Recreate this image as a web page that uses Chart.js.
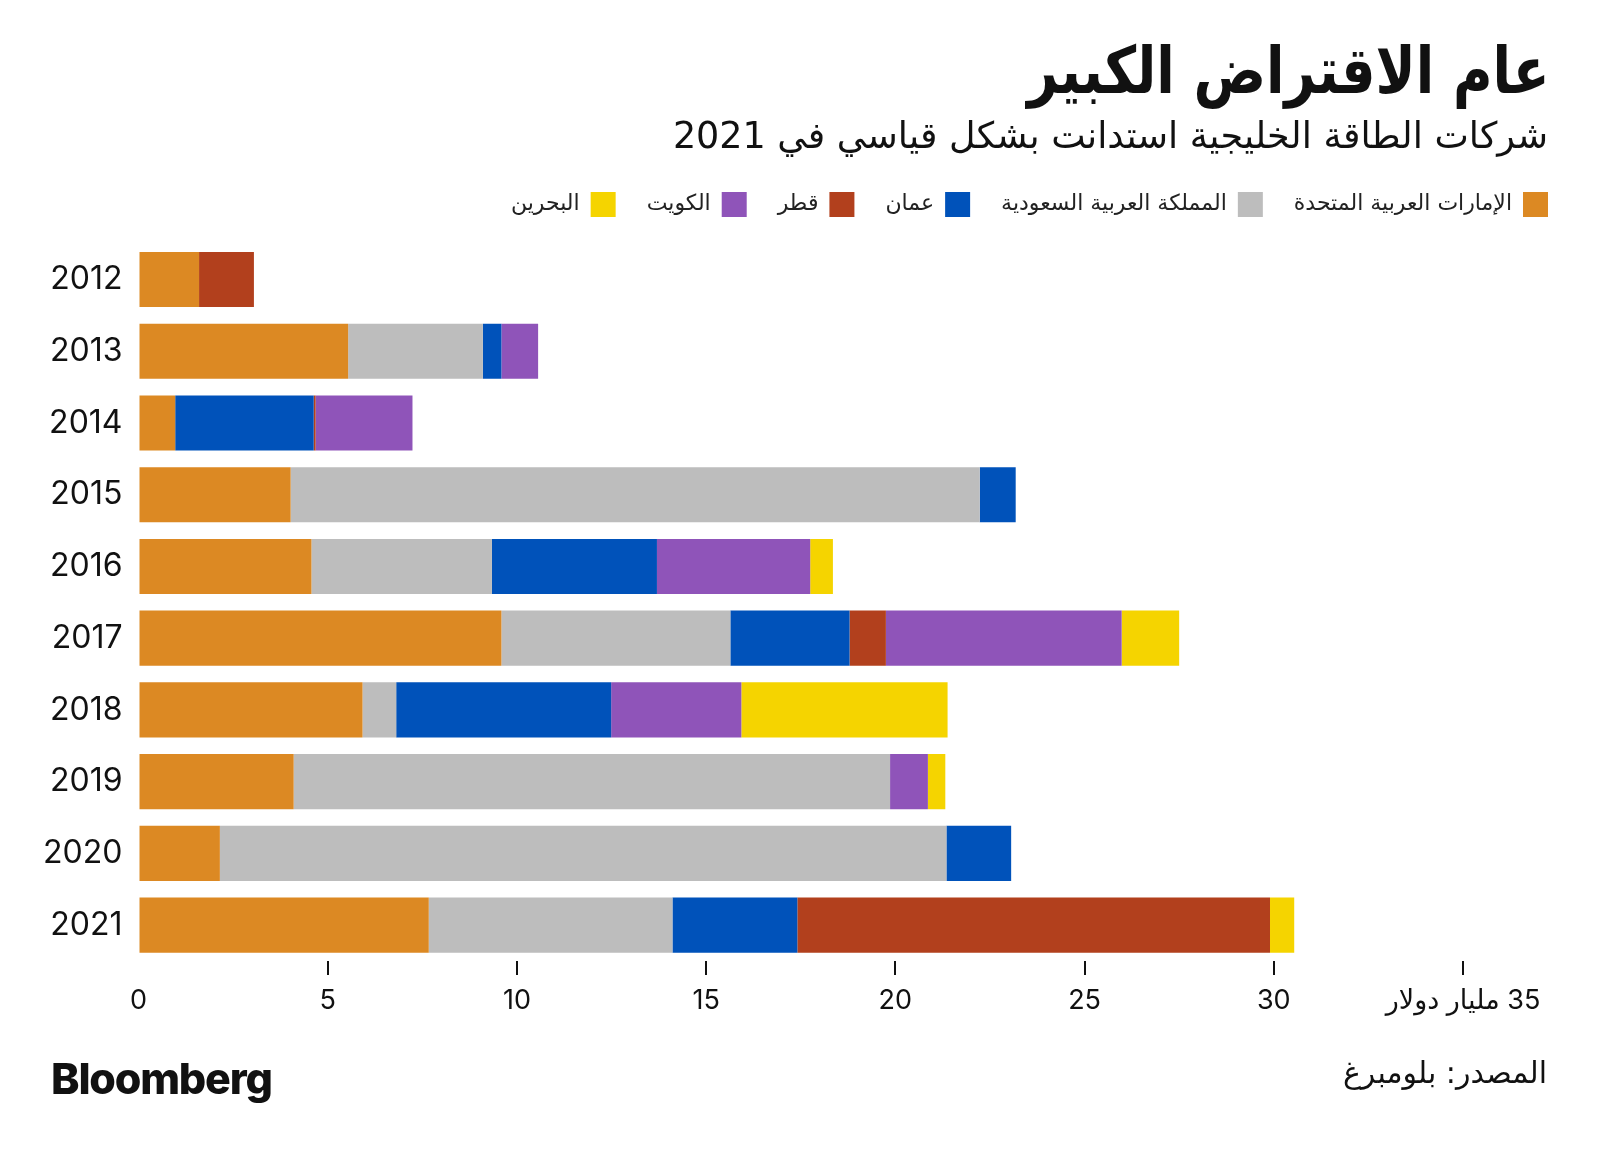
<!DOCTYPE html>
<html lang="ar">
<head>
<meta charset="UTF-8">
<title>عام الاقتراض الكبير</title>
<script src="https://cdn.jsdelivr.net/npm/chart.js@4/dist/chart.umd.min.js"></script>
<style>
  html, body { margin: 0; padding: 0; background: #fff; }
  body { width: 1600px; height: 1159px; position: relative; overflow: hidden; font-family: 'DejaVu Sans', sans-serif; color: #111; }
  .wrap { position: absolute; left: 0; top: 0; width: 1600px; height: 1159px; }
  .title { position: absolute; right: 50px; top: 33px; font-size: 65px; font-weight: 700; direction: rtl; white-space: nowrap; transform: scaleX(0.83); transform-origin: right center; }
  .sub { position: absolute; right: 52px; top: 114px; font-size: 36.5px; direction: rtl; white-space: nowrap; }
  .logo { position: absolute; left: 51px; top: 1052px; font-family: Inter, sans-serif; font-weight: 800; font-size: 43px; letter-spacing: -1.2px; }
  .source { position: absolute; right: 53px; top: 1055px; font-size: 30px; direction: rtl; white-space: nowrap; }
</style>
</head>
<body>
<div class="wrap"><canvas id="chart"></canvas></div>
<div class="title">عام الاقتراض الكبير</div>
<div class="sub">شركات الطاقة الخليجية استدانت بشكل قياسي في 2021</div>
<div class="logo">Bloomberg</div>
<div class="source">المصدر: بلومبرغ</div>
<script>
const years = ['2012', '2013', '2014', '2015', '2016', '2017', '2018', '2019', '2020', '2021'];
const seriesNames = ['الإمارات العربية المتحدة', 'المملكة العربية السعودية', 'عمان', 'قطر', 'الكويت', 'البحرين'];
const seriesColors = ['#DC8923', '#BDBDBD', '#0052BA', '#B2401D', '#8F54B9', '#F5D400'];

// billions of dollars
const uae     = [1.60, 5.54, 0.97, 4.02, 4.57, 9.59, 5.92, 4.10, 2.15, 7.67];
const saudi   = [0, 3.56, 0, 18.21, 4.77, 6.05, 0.89, 15.76, 19.20, 6.44];
const oman    = [0, 0.49, 3.66, 0.95, 4.36, 3.15, 5.68, 0, 1.71, 3.30];
const qatar   = [1.45, 0, 0.05, 0, 0, 0.96, 0, 0, 0, 12.49];
const kuwait  = [0, 0.97, 2.56, 0, 4.05, 6.23, 3.44, 1.00, 0, 0];
const bahrain = [0, 0, 0, 0, 0.60, 1.52, 5.45, 0.46, 0, 0.64];

const xTicks = [0, 5, 10, 15, 20, 25, 30, 35];
const unitLabel = 'مليار دولار';

const allSeries = [uae, saudi, oman, qatar, kuwait, bahrain];

// make the legend box taller than Chart.js would, so the plot starts lower
const legendHeight = {
  id: 'legendHeight',
  beforeInit(chart) {
    const fit = chart.legend.fit;
    chart.legend.fit = function () {
      fit.call(this);
      this.height = 82.6;
    };
  }
};

new Chart(document.getElementById('chart'), {
  type: 'bar',
  data: {
    labels: years,
    datasets: allSeries.map((d, i) => ({
      label: seriesNames[i],
      data: d,
      backgroundColor: seriesColors[i],
      borderWidth: 0,
      barPercentage: 0.768,
      categoryPercentage: 1
    }))
  },
  options: {
    indexAxis: 'y',
    responsive: true,
    maintainAspectRatio: false,
    animation: false,
    layout: { padding: { top: 161, left: 38.5, right: 21, bottom: 118 } },
    plugins: {
      title: { display: false },
      tooltip: { enabled: false },
      legend: {
        position: 'top',
        align: 'start',
        rtl: true,
        textDirection: 'rtl',
        labels: {
          boxWidth: 25,
          boxHeight: 25,
          padding: 31,
          color: '#222',
          font: { family: "'DejaVu Sans', sans-serif", size: 22 }
        }
      }
    },
    scales: {
      x: {
        stacked: true,
        min: 0,
        max: 35,
        afterBuildTicks(scale) { scale.ticks = xTicks.map((v) => ({ value: v })); },
        afterFit(scale) { scale.height = 80; },
        border: { display: false },
        grid: {
          drawOnChartArea: false,
          drawTicks: true,
          tickLength: 14,
          lineWidth: 2,
          tickColor: (ctx) => (ctx.tick && ctx.tick.value === 0 ? 'rgba(0,0,0,0)' : '#111')
        },
        ticks: {
          padding: 10,
          color: '#111',
          font: { family: "Inter, 'DejaVu Sans', sans-serif", size: 27 },
          callback: (v) => (v === 35 ? v + ' ' + unitLabel : String(v))
        }
      },
      y: {
        stacked: true,
        afterFit(scale) { scale.width = 100; },
        border: { display: false },
        grid: { display: false, drawTicks: false },
        ticks: {
          padding: 16,
          color: '#111',
          font: { family: "Inter, sans-serif", size: 32 }
        }
      },
      y2: {
        type: 'category',
        position: 'right',
        afterFit(scale) { scale.width = 116; },
        border: { display: false },
        grid: { display: false, drawTicks: false },
        ticks: { display: false }
      }
    }
  },
  plugins: [legendHeight]
});
</script>
</body>
</html>
